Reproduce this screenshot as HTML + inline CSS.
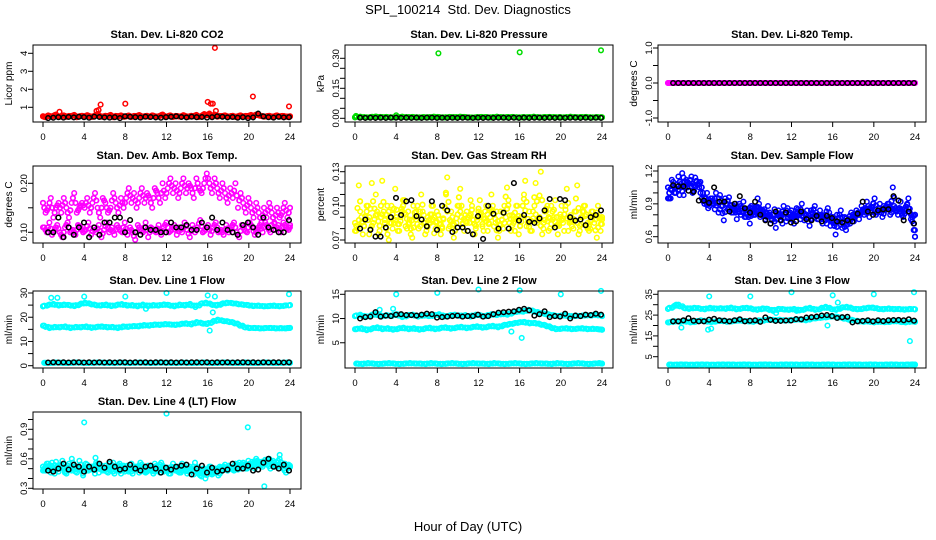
<!DOCTYPE html>
<html><head><meta charset="utf-8"><style>
html,body{margin:0;padding:0;background:#fff;}
svg{display:block;font-family:"Liberation Sans",Arial,sans-serif;}
</style></head><body>
<svg id="chart" width="936" height="540" viewBox="0 0 936 540" xmlns="http://www.w3.org/2000/svg">
<rect width="936" height="540" fill="#fff"/>
<text x="468" y="14" font-size="13" text-anchor="middle" style="white-space:pre">SPL_100214  Std. Dev. Diagnostics</text>
<text x="468" y="531" font-size="13" text-anchor="middle">Hour of Day (UTC)</text>
</svg>
<script>
// ---- data ----
const xTicks=[0,4,8,12,16,20,24];
const co2Cloud=[0.5,0.45,0.55,0.48,0.52,0.6,0.46,0.5,0.55,0.47,0.52,0.5,0.58,0.45,0.5,0.53,0.48,0.56,0.5,0.46,0.55,0.62,0.5,0.47,0.53,0.5,0.58,0.45,0.52,0.49,0.55,0.47,0.5,0.54,0.46,0.52,0.5,0.57,0.48,0.5,0.53,0.46,0.55,0.5,0.48,0.52,0.6,0.47,0.5,0.55,0.46,0.52,0.5,0.48,0.56,0.5,0.47,0.53,0.5,0.58,0.46,0.52,0.62,0.55,0.65,0.5,0.6,0.48,0.52,0.5,0.55,0.47,0.5,0.53,0.46,0.5,0.55,0.48,0.52,0.5,0.58,0.5,0.6,0.55,0.52,0.48,0.5,0.53,0.47,0.5,0.55,0.48,0.52,0.5,0.47,0.5];
const co2OutHours=[1.6,5.2,5.4,5.6,8.0,16.0,16.3,16.5,16.7,16.8,20.4,23.9];
const co2OutVals=[0.75,0.8,0.85,1.15,1.2,1.3,1.2,1.2,4.3,0.8,1.6,1.05];
const co2Black=[0.4,0.42,0.45,0.43,0.46,0.44,0.47,0.45,0.42,0.48,0.46,0.44,0.43,0.45,0.4,0.5,0.47,0.45,0.43,0.48,0.46,0.44,0.42,0.45,0.47,0.5,0.46,0.44,0.48,0.45,0.46,0.43,0.45,0.5,0.47,0.44,0.46,0.42,0.45,0.4,0.44,0.65,0.5,0.45,0.43,0.47,0.44,0.45];

const pressCloud=[0.005,0.008,0.004,0.006,0.009,0.005,0.007,0.004,0.006,0.008,0.005,0.007,0.004,0.006,0.005,0.008,0.006,0.004,0.007,0.005,0.008,0.006,0.004,0.005,0.007,0.006,0.004,0.008,0.005,0.006,0.007,0.004,0.006,0.005,0.008,0.004,0.006,0.007,0.005,0.006,0.004,0.008,0.005,0.006,0.007,0.004,0.006,0.005];
const pressOutHours=[0.1,4.0,8.1,16.0,23.9];
const pressOutVals=[0.012,0.015,0.325,0.33,0.34];
const pressBlack=[0.003,0.002,0.003,0.002,0.003,0.002,0.003,0.003,0.002,0.003,0.002,0.003,0.002,0.003,0.003,0.002,0.003,0.002,0.003,0.002,0.003,0.003,0.002,0.003,0.002,0.003,0.002,0.003,0.003,0.002,0.003,0.002,0.003,0.002,0.003,0.003,0.002,0.003,0.002,0.003,0.002,0.003,0.003,0.002,0.003,0.002,0.003,0.002];

const tempCloud=[0,0,0,0,0,0,0,0,0,0,0,0,0,0,0,0,0,0,0,0,0,0,0,0,0,0,0,0,0,0,0,0,0,0,0,0,0,0,0,0,0,0,0,0,0,0,0,0,0,0,0,0,0,0,0,0,0,0,0,0,0,0,0,0,0,0,0,0,0,0,0,0,0,0,0,0,0,0,0,0,0,0,0,0,0,0,0,0,0,0,0,0,0,0,0,0];
const tempBlack=[0,0,0,0,0,0,0,0,0,0,0,0,0,0,0,0,0,0,0,0,0,0,0,0,0,0,0,0,0,0,0,0,0,0,0,0,0,0,0,0,0,0,0,0,0,0,0,0];

const ambUpper=[0.16,0.14,0.15,0.17,0.13,0.15,0.16,0.14,0.17,0.15,0.13,0.16,0.18,0.14,0.15,0.16,0.15,0.17,0.14,0.16,0.18,0.15,0.13,0.17,0.16,0.14,0.15,0.18,0.16,0.14,0.17,0.15,0.17,0.19,0.16,0.18,0.15,0.17,0.19,0.16,0.18,0.17,0.15,0.19,0.18,0.16,0.2,0.17,0.19,0.21,0.18,0.2,0.17,0.19,0.21,0.18,0.2,0.19,0.17,0.21,0.19,0.18,0.2,0.22,0.2,0.18,0.21,0.19,0.17,0.2,0.18,0.16,0.19,0.17,0.2,0.15,0.18,0.16,0.14,0.17,0.15,0.13,0.16,0.14,0.12,0.15,0.13,0.16,0.14,0.12,0.15,0.13,0.14,0.16,0.13,0.15];
const ambLower=[0.11,0.1,0.12,0.095,0.105,0.115,0.1,0.09,0.11,0.12,0.1,0.105,0.095,0.115,0.11,0.1,0.105,0.12,0.095,0.11,0.1,0.115,0.09,0.105,0.12,0.1,0.11,0.095,0.115,0.105,0.1,0.12,0.095,0.11,0.1,0.085,0.115,0.105,0.1,0.12,0.09,0.11,0.105,0.1,0.115,0.095,0.11,0.12,0.1,0.105,0.115,0.095,0.11,0.1,0.12,0.105,0.09,0.115,0.1,0.11,0.125,0.1,0.105,0.115,0.095,0.11,0.12,0.1,0.105,0.095,0.115,0.1,0.11,0.12,0.1,0.09,0.115,0.105,0.1,0.12,0.11,0.095,0.105,0.115,0.1,0.12,0.11,0.1,0.13,0.105,0.115,0.1,0.12,0.11,0.105,0.115];
const ambBlack=[0.1,0.1,0.13,0.09,0.11,0.095,0.11,0.12,0.09,0.11,0.095,0.12,0.12,0.13,0.13,0.1,0.125,0.1,0.095,0.11,0.105,0.105,0.1,0.1,0.12,0.11,0.11,0.115,0.105,0.105,0.12,0.11,0.13,0.105,0.12,0.105,0.1,0.095,0.115,0.12,0.11,0.095,0.13,0.11,0.105,0.1,0.1,0.125];

const rhCloudA=[0.085,0.08,0.095,0.075,0.09,0.1,0.08,0.085,0.11,0.075,0.09,0.095,0.08,0.07,0.1,0.085,0.09,0.078,0.095,0.105,0.08,0.088,0.072,0.09,0.1,0.082,0.095,0.075,0.09,0.085,0.1,0.08,0.092,0.075,0.088,0.11,0.08,0.095,0.072,0.085,0.1,0.09,0.078,0.095,0.085,0.1,0.075,0.09,0.105,0.082,0.095,0.078,0.09,0.1,0.085,0.072,0.095,0.08,0.09,0.105,0.078,0.088,0.1,0.075,0.09,0.11,0.082,0.095,0.078,0.1,0.085,0.09,0.075,0.095,0.1,0.08,0.088,0.105,0.075,0.09,0.085,0.1,0.078,0.092,0.08,0.095,0.075,0.09,0.1,0.082,0.078,0.095,0.085,0.072,0.09,0.088];
const rhCloudB=[0.078,0.118,0.09,0.082,0.1,0.075,0.12,0.088,0.095,0.078,0.122,0.085,0.1,0.09,0.08,0.115,0.078,0.09,0.105,0.082,0.095,0.075,0.1,0.088,0.08,0.11,0.092,0.078,0.085,0.1,0.076,0.095,0.088,0.08,0.098,0.125,0.082,0.09,0.078,0.1,0.115,0.085,0.092,0.078,0.105,0.088,0.08,0.095,0.09,0.078,0.1,0.085,0.11,0.082,0.095,0.078,0.088,0.1,0.116,0.085,0.092,0.078,0.1,0.082,0.09,0.122,0.085,0.078,0.095,0.12,0.088,0.13,0.08,0.095,0.078,0.1,0.09,0.082,0.085,0.1,0.078,0.115,0.09,0.082,0.095,0.118,0.078,0.09,0.1,0.085,0.08,0.095,0.088,0.1,0.078,0.09];
const rhBlack=[0.08,0.088,0.079,0.073,0.073,0.081,0.09,0.107,0.092,0.104,0.105,0.091,0.088,0.082,0.104,0.079,0.1,0.096,0.077,0.081,0.081,0.078,0.075,0.091,0.071,0.1,0.093,0.08,0.094,0.08,0.12,0.087,0.092,0.086,0.085,0.089,0.096,0.106,0.081,0.106,0.105,0.09,0.087,0.088,0.083,0.09,0.092,0.096];

const flowCloudA=[1.05,0.95,1.1,1.0,1.15,1.05,0.98,1.12,1.08,1.15,1.02,1.1,1.05,0.95,0.9,1.0,0.88,0.95,0.85,0.92,0.98,0.88,0.95,0.85,0.88,0.82,0.9,0.85,0.8,0.92,0.78,0.85,0.88,0.8,0.84,0.9,0.8,0.85,0.78,0.82,0.75,0.85,0.8,0.78,0.72,0.82,0.86,0.76,0.8,0.78,0.85,0.76,0.82,0.8,0.74,0.84,0.78,0.82,0.76,0.8,0.78,0.72,0.82,0.75,0.7,0.8,0.74,0.68,0.78,0.75,0.72,0.8,0.78,0.82,0.8,0.85,0.82,0.88,0.84,0.9,0.8,0.86,0.82,0.88,0.85,0.9,0.82,0.88,0.84,0.86,0.8,0.85,0.9,0.82,0.78,0.8];
const flowCloudB=[0.95,1.12,1.0,1.08,0.98,1.18,1.1,1.05,1.12,1.0,1.14,1.08,1.1,1.0,0.92,0.86,0.95,0.9,1.0,0.82,0.88,0.75,0.9,0.96,0.82,0.88,0.76,0.9,0.86,0.78,0.84,0.72,0.86,0.8,0.95,0.78,0.84,0.76,0.88,0.72,0.8,0.68,0.84,0.78,0.88,0.74,0.8,0.84,0.72,0.86,0.8,0.9,0.75,0.84,0.7,0.82,0.88,0.76,0.84,0.72,0.8,0.86,0.7,0.78,0.62,0.76,0.84,0.72,0.66,0.76,0.82,0.74,0.84,0.76,0.88,0.8,0.92,0.78,0.86,0.95,0.82,0.9,0.78,0.84,0.9,0.8,1.05,0.86,0.8,0.92,0.78,0.84,0.95,0.76,0.72,0.6];
const flowBlack=[1.07,1.06,1.06,1.02,1.01,0.93,0.93,0.91,1.05,0.92,0.92,0.83,0.9,0.97,0.86,0.82,0.92,0.8,0.75,0.72,0.83,0.75,0.82,0.73,0.74,0.83,0.76,0.75,0.79,0.74,0.79,0.77,0.74,0.73,0.75,0.74,0.81,0.92,0.83,0.8,0.84,0.85,0.85,0.97,0.93,0.75,0.83,0.72];

const l1Upper=[24.5,25,25.5,24.8,25.2,25,24.6,25.3,26,25.5,25,24.8,25.2,24.6,25,25.4,24.8,25,24.5,25.2,24.6,25,24.8,25.3,25,24.5,25.2,24.8,25.5,24.2,25.5,26,25.3,24.8,25.5,26,25.8,25.5,25.2,25,24.6,24.8,24.5,24.6,24.8,24.5,24.8,25];
const l1Mid=[16.5,15.5,16,15.8,16.2,15.5,16,15.8,16.2,15.6,16,16.2,15.8,16,15.5,16.2,16,16.4,16.2,16.8,16.5,17,16.8,17.2,17,16.8,17.2,17.5,17,18,17.5,17.2,18,19,18.5,18.2,17.8,17,16,15.5,15.6,15.4,15.5,15.6,15.4,15.5,15.4,15.6];
const l1Low=[1.2,1.1,1.3,1.2,1.1,1.2,1.3,1.2,1.1,1.2,1.3,1.2,1.2,1.1,1.3,1.2,1.1,1.2,1.3,1.2,1.1,1.2,1.3,1.2,1.2,1.1,1.3,1.2,1.1,1.2,1.3,1.2,1.1,1.2,1.3,1.2,1.2,1.1,1.3,1.2,1.1,1.2,1.3,1.2,1.1,1.2,1.3,1.2];
const l1OutHours=[0.8,1.4,4.0,8.0,12.0,16.0,16.7,23.9,16.2,16.5,10.0];
const l1OutVals=[28,28,28.5,28.5,30,29,28.5,29.5,14.5,22,23.5];
const l1Black=[1.3,1.4,1.3,1.4,1.3,1.4,1.4,1.3,1.4,1.3,1.4,1.3,1.4,1.3,1.4,1.4,1.3,1.4,1.3,1.4,1.3,1.4,1.4,1.3,1.4,1.3,1.4,1.3,1.4,1.4,1.3,1.4,1.3,1.4,1.3,1.4,1.3,1.4,1.4,1.3,1.4,1.3,1.4,1.3,1.4,1.4,1.3,1.4];

const l2Upper=[10.5,10.8,10.3,10.6,11,10.4,10.7,10.5,10.9,10.3,10.6,10.8,10.4,10.7,10.5,10.6,10.9,10.4,10.6,10.8,10.5,10.7,10.4,10.8,10.6,10.5,10.9,10.7,11,10.8,11.2,11.5,11.4,11.8,11.5,11.2,11,10.8,10.6,10.5,10.7,10.4,10.6,10.5,10.7,10.6,10.8,10.5];
const l2Mid=[7.8,8,7.6,7.9,8.2,7.8,8,7.7,7.9,8.1,7.8,8,7.7,7.9,8.1,7.8,8,8.2,7.9,8.1,8.3,8,8.2,8.4,8.1,8.3,8.5,8.2,8.6,8.8,9,9.2,9.3,9,9.1,8.8,8.6,8.2,7.8,7.9,8,7.8,7.9,8,7.8,7.9,7.8,7.7];
const l2Low=[0.7,0.6,0.8,0.7,0.6,0.7,0.8,0.7,0.6,0.7,0.8,0.7,0.7,0.6,0.8,0.7,0.6,0.7,0.8,0.7,0.6,0.7,0.8,0.7,0.7,0.6,0.8,0.7,0.6,0.7,0.8,0.7,0.6,0.7,0.8,0.7,0.7,0.6,0.8,0.7,0.6,0.7,0.8,0.7,0.6,0.7,0.8,0.7];
const l2OutHours=[4,8,12,16,20,23.9,16.2,3.7,15.2,2.4];
const l2OutVals=[15,15.3,16,15.8,15,15.7,6,12,7.3,11.8];
const l2Black=[10,10.3,10.4,11.3,10.4,10.6,10.5,10.8,10.9,10.7,10.7,10.6,10.8,11,10.9,10.2,10.3,10.4,10.5,10.6,10.4,10.5,10.5,10.8,10.4,10.5,10.9,11.2,11.3,11.4,11.5,11.8,12,11.7,10.6,10.9,11.5,10.3,10.5,10.4,11,10,10.6,10.5,10.8,10.7,11,10.8];

const l3Upper=[28,29,30,28.5,28,28.5,28.2,27.8,28.5,28,28.3,28,28.6,27.8,28.2,28.5,28,27.5,28.2,28,27,28,27.8,27.5,28,27.2,27.8,28.5,27.5,28,29,28,27.5,28.5,29,28.2,27.8,28,28.5,28.6,28,27.8,28.2,27.8,28,27.6,28,27.8];
const l3Mid=[21.5,22,21.8,22.2,21.5,21.8,22.5,22,21.7,22,22.3,21.8,22,22.5,22.2,22,21.8,22.5,22.3,23,22.5,22.8,22.3,22.6,22.8,23,22.5,23.2,23.5,23.8,24,24.5,24.2,23.5,23,22.5,22,21.8,22,21.5,22,21.6,21.8,22.2,21.8,21.5,22,21.8];
const l3Low=[1.2,1.1,1.3,1.2,1.1,1.2,1.3,1.2,1.1,1.2,1.3,1.2,1.2,1.1,1.3,1.2,1.1,1.2,1.3,1.2,1.1,1.2,1.3,1.2,1.2,1.1,1.3,1.2,1.1,1.2,1.3,1.2,1.1,1.2,1.3,1.2,1.2,1.1,1.3,1.2,1.1,1.2,1.3,1.2,1.1,1.2,1.3,1.2];
const l3OutHours=[0.8,4.0,4.2,8.0,12.0,16.0,16.5,20.0,23.9,23.5,1.3,3.9,10.5,12.5,15.5];
const l3OutVals=[30,34,18.5,34,36,34.5,31,35,36,12.5,19,18,26,27,20];
const l3Black=[22,22,22.5,23.5,22.3,22,22,22.8,23.2,22.5,22.3,22,22.5,23,22,22.3,22.5,21.8,23.9,22.7,22.2,22.2,22.4,22.4,23.1,23,23.8,24,24.3,24.8,25,24.5,23.6,24,24.2,21.5,22,22.2,22.5,22,22.5,22.1,22.5,22.6,22.7,22.5,23,22.3];

const l4CloudA=[0.52,0.48,0.55,0.46,0.5,0.57,0.47,0.53,0.5,0.45,0.55,0.48,0.52,0.46,0.58,0.5,0.47,0.54,0.49,0.52,0.45,0.55,0.5,0.48,0.53,0.46,0.51,0.56,0.48,0.5,0.45,0.53,0.5,0.47,0.55,0.49,0.52,0.46,0.54,0.5,0.47,0.52,0.48,0.55,0.5,0.46,0.53,0.49,0.51,0.45,0.55,0.48,0.52,0.46,0.5,0.54,0.47,0.5,0.44,0.52,0.48,0.42,0.5,0.46,0.52,0.44,0.49,0.47,0.52,0.5,0.54,0.48,0.52,0.5,0.55,0.49,0.53,0.56,0.5,0.58,0.52,0.55,0.6,0.53,0.57,0.54,0.58,0.6,0.55,0.52,0.56,0.6,0.53,0.55,0.5,0.52];
const l4CloudB=[0.48,0.55,0.5,0.56,0.45,0.52,0.5,0.58,0.46,0.53,0.49,0.56,0.47,0.52,0.5,0.45,0.55,0.48,0.52,0.5,0.56,0.46,0.53,0.5,0.47,0.55,0.49,0.45,0.52,0.55,0.5,0.47,0.53,0.49,0.45,0.52,0.5,0.56,0.48,0.46,0.53,0.5,0.45,0.49,0.52,0.56,0.47,0.5,0.45,0.52,0.5,0.48,0.46,0.55,0.5,0.45,0.52,0.48,0.56,0.46,0.43,0.5,0.4,0.47,0.52,0.45,0.5,0.43,0.47,0.52,0.49,0.53,0.5,0.48,0.52,0.56,0.5,0.54,0.5,0.53,0.57,0.5,0.58,0.55,0.52,0.59,0.55,0.5,0.58,0.54,0.52,0.56,0.5,0.46,0.54,0.52];
const l4OutHours=[4.0,12.0,19.9,21.5,3.9,23.0,2.8,5.1];
const l4OutVals=[0.97,1.06,0.92,0.32,0.43,0.64,0.6,0.61];
const l4Black=[0.48,0.47,0.5,0.55,0.49,0.54,0.52,0.47,0.52,0.49,0.55,0.51,0.57,0.52,0.49,0.5,0.54,0.5,0.48,0.52,0.53,0.5,0.46,0.51,0.49,0.52,0.53,0.54,0.44,0.5,0.53,0.46,0.51,0.47,0.48,0.49,0.55,0.5,0.5,0.53,0.48,0.49,0.56,0.6,0.52,0.5,0.54,0.48];

// ---- layout ----
const NS="http://www.w3.org/2000/svg";
const svg=document.getElementById('chart');
const colX0=[43,355,668];
const rowTop=[45,166,291,412];
const BOX_H=77;
function mk(tag,attrs,parent){const e=document.createElementNS(NS,tag);for(const k in attrs)e.setAttribute(k,attrs[k]);(parent||svg).appendChild(e);return e;}

const panels=[
 {name:'co2',title:'Stan. Dev. Li-820 CO2',ylab:'Licor ppm',col:0,row:0,color:'#ff0000',v1:1,p1:107.3,v2:4,p2:53.3,ticks:[1,2,3,4],labels:['1','2','3','4'],clouds:[co2Cloud],out:[co2OutHours,co2OutVals],black:co2Black},
 {name:'pressure',title:'Stan. Dev. Li-820 Pressure',ylab:'kPa',col:1,row:0,color:'#00dd00',v1:0,p1:118.3,v2:0.3,p2:58.3,ticks:[0,0.05,0.1,0.15,0.2,0.25,0.3],labels:['0.00','','','0.15','','','0.30'],clouds:[pressCloud],out:[pressOutHours,pressOutVals],black:pressBlack},
 {name:'temp',title:'Stan. Dev. Li-820 Temp.',ylab:'degrees C',col:2,row:0,color:'#ff00ff',v1:-1,p1:118,v2:1,p2:48,ticks:[-1,-0.5,0,0.5,1],labels:['-1.0','','0.0','','1.0'],clouds:[tempCloud],out:null,black:tempBlack},
 {name:'amb-box-temp',title:'Stan. Dev. Amb. Box Temp.',ylab:'degrees C',col:0,row:1,color:'#ff00ff',v1:0.1,p1:232.3,v2:0.2,p2:183.3,ticks:[0.1,0.15,0.2],labels:['0.10','','0.20'],clouds:[ambUpper,ambLower],out:null,black:ambBlack},
 {name:'gas-rh',title:'Stan. Dev. Gas Stream RH',ylab:'percent',col:1,row:1,color:'#ffff00',v1:0.07,p1:240,v2:0.13,p2:171.7,ticks:[0.07,0.08,0.09,0.1,0.11,0.12,0.13],labels:['0.07','','','0.10','','','0.13'],clouds:[rhCloudA,rhCloudB],out:null,black:rhBlack},
 {name:'sample-flow',title:'Stan. Dev. Sample Flow',ylab:'ml/min',col:2,row:1,color:'#0000ff',v1:0.6,p1:236.7,v2:1.2,p2:171,ticks:[0.6,0.7,0.8,0.9,1.0,1.1,1.2],labels:['0.6','','','0.9','','','1.2'],clouds:[flowCloudA,flowCloudB],out:null,black:flowBlack},
 {name:'line1-flow',title:'Stan. Dev. Line 1 Flow',ylab:'ml/min',col:0,row:2,color:'#00ffff',v1:0,p1:365.7,v2:30,p2:293,ticks:[0,5,10,15,20,25,30],labels:['0','','10','','20','','30'],clouds:[l1Upper,l1Mid,l1Low],out:[l1OutHours,l1OutVals],black:l1Black},
 {name:'line2-flow',title:'Stan. Dev. Line 2 Flow',ylab:'ml/min',col:1,row:2,color:'#00ffff',v1:0,p1:367,v2:15,p2:294.3,ticks:[5,10,15],labels:['5','10','15'],clouds:[l2Upper,l2Mid,l2Low],out:[l2OutHours,l2OutVals],black:l2Black},
 {name:'line3-flow',title:'Stan. Dev. Line 3 Flow',ylab:'ml/min',col:2,row:2,color:'#00ffff',v1:5,p1:356.7,v2:35,p2:294.3,ticks:[5,10,15,20,25,30,35],labels:['5','','15','','25','','35'],clouds:[l3Upper,l3Mid,l3Low],out:[l3OutHours,l3OutVals],black:l3Black},
 {name:'line4-flow',title:'Stan. Dev. Line 4 (LT) Flow',ylab:'ml/min',col:0,row:3,color:'#00ffff',v1:0.3,p1:488.3,v2:0.9,p2:429.3,ticks:[0.3,0.4,0.5,0.6,0.7,0.8,0.9,1.0],labels:['0.3','','','0.6','','','0.9',''],clouds:[l4CloudA,l4CloudB],out:[l4OutHours,l4OutVals],black:l4Black}
];

function pt(g,x,y,color){
  const c=mk('circle',{cx:x.toFixed(1),cy:y.toFixed(1),r:2.3,fill:'none',stroke:color,'stroke-width':1.5},g);
  
  
}

panels.forEach(p=>{
  const x0=colX0[p.col], L=x0-10, R=x0+258, T=rowTop[p.row], B=T+BOX_H;
  const xs=h=>x0+h*(247/24);
  const ys=v=>p.p1+(v-p.v1)*(p.p2-p.p1)/(p.v2-p.v1);
  const g=mk('g',{});
  
  
  const t=mk('text',{x:(L+R)/2,y:T-7,'font-size':11,'font-weight':'bold','text-anchor':'middle'},g);
  t.textContent=p.title;
  
  
  const yl=mk('text',{x:0,y:0,'font-size':10,'text-anchor':'middle',transform:`translate(${L-21},${(T+B)/2}) rotate(-90)`},g);
  yl.textContent=p.ylab;
  
  
  p.ticks.forEach((v,i)=>{
    const y=ys(v);
    mk('line',{x1:L-5,x2:L,y1:y,y2:y,stroke:'#000','stroke-width':1},g);
    if(p.labels[i]){
      const tl=mk('text',{x:0,y:0,'font-size':9.5,'text-anchor':'middle',transform:`translate(${L-6},${y}) rotate(-90)`},g);
      tl.textContent=p.labels[i];
      
      
    }
  });
  xTicks.forEach(h=>{
    const x=xs(h);
    mk('line',{x1:x,x2:x,y1:B,y2:B+5,stroke:'#000','stroke-width':1},g);
    const tl=mk('text',{x:x,y:B+18,'font-size':9.5,'text-anchor':'middle'},g);
    tl.textContent=String(h);
    
    
  });
  // clouds: each value plus neighbour-values just beside it for density
  p.clouds.forEach((arr,ci)=>{
    const n=arr.length, off=ci*0.12;
    arr.forEach((v,i)=>{
      const h=Math.min(24,i*24/(n-1)+off);
      const x=xs(h);
      const prev=arr[Math.max(0,i-1)], next=arr[Math.min(n-1,i+1)];
      pt(g,x,ys(v),p.color);
      pt(g,Math.max(x0,x-1.3),ys((v+prev)/2),p.color);
      pt(g,Math.min(x0+247,x+1.3),ys((v+next)/2),p.color);
    });
  });
  if(p.out){p.out[0].forEach((h,i)=>pt(g,xs(h),ys(p.out[1][i]),p.color));}
  const nb=p.black.length;
  p.black.forEach((v,i)=>{const h=0.5+i*23.4/(nb-1);pt(g,xs(h),ys(v),'#000');});
  const box=mk('rect',{x:L,y:T,width:R-L,height:BOX_H,fill:'none',stroke:'#000','stroke-width':1},g);
  
  
});
</script>
</body></html>
